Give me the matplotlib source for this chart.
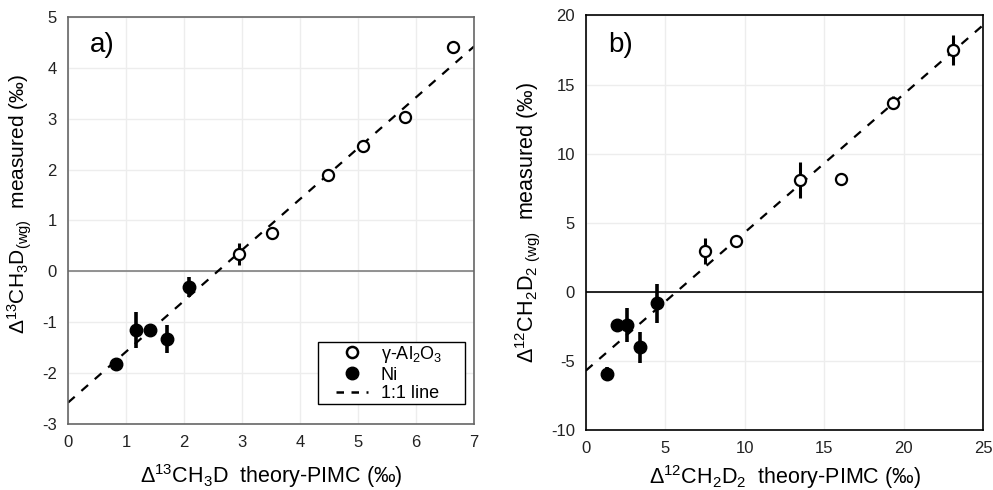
import matplotlib
matplotlib.use("Agg")
import matplotlib.pyplot as plt
from matplotlib.lines import Line2D
from matplotlib.patches import Rectangle

plt.rcParams["font.family"] = ["Liberation Sans", "DejaVu Sans"]
plt.rcParams["mathtext.fontset"] = "custom"
plt.rcParams["mathtext.rm"] = "Liberation Sans"
plt.rcParams["mathtext.it"] = "Liberation Sans:italic"
plt.rcParams["mathtext.default"] = "rm"
plt.rcParams["axes.unicode_minus"] = False

# panel a: Δ13CH3D
a_al_x = [6.64, 5.80, 5.09, 4.48, 3.51, 2.95]
a_al_y = [4.41, 3.04, 2.47, 1.89, 0.76, 0.34]
a_al_err = [0.0, 0.0, 0.10, 0.10, 0.0, 0.21]
a_ni_x = [2.09, 1.18, 1.42, 1.70, 0.82]
a_ni_y = [-0.31, -1.15, -1.15, -1.33, -1.83]
a_ni_err = [0.20, 0.36, 0.0, 0.28, 0.0]
a_offset = -2.58

# panel b: Δ12CH2D2
b_al_x = [23.11, 19.34, 16.04, 13.46, 9.42, 7.49]
b_al_y = [17.51, 13.70, 8.17, 8.10, 3.71, 2.98]
b_al_err = [1.1, 0.5, 0.0, 1.3, 0.0, 0.95]
b_ni_x = [4.49, 1.99, 2.62, 3.40, 1.30]
b_ni_y = [-0.83, -2.40, -2.40, -4.02, -5.95]
b_ni_err = [1.4, 0.0, 1.2, 1.15, 0.5]
b_offset = -5.70

fig = plt.figure(figsize=(9.93, 4.9), dpi=100)
ax_a = fig.add_axes([0.0685, 0.1347, 0.409, 0.831])
ax_b = fig.add_axes([0.590, 0.1224, 0.400, 0.846])


def panel(ax, al_x, al_y, al_err, ni_x, ni_y, ni_err, offset, xlim, ylim, step_x, step_y, zero_color):
    ax.set_xlim(*xlim)
    ax.set_ylim(*ylim)
    ax.set_xticks(range(xlim[0], xlim[1] + 1, step_x))
    ax.set_yticks(range(ylim[0], ylim[1] + 1, step_y))
    ax.grid(True, color="#ededed", linewidth=1.0)
    ax.set_axisbelow(True)
    ax.tick_params(length=0, labelsize=12, pad=8, colors="#222222")
    ax.axhline(0, color=zero_color, linewidth=1.2, zorder=1)
    ax.plot(list(xlim), [xlim[0] + offset, xlim[1] + offset], color="black",
            linestyle=(0, (4, 4)), linewidth=1.6, zorder=2)
    ax.errorbar(al_x, al_y, yerr=al_err, fmt="o", mfc="white", mec="black", mew=1.6,
                ms=8, ecolor="black", elinewidth=2.2, capsize=0, zorder=3)
    ax.errorbar(ni_x, ni_y, yerr=ni_err, fmt="o", mfc="black", mec="black",
                ms=9, ecolor="black", elinewidth=2.6, capsize=0, zorder=3)


panel(ax_a, a_al_x, a_al_y, a_al_err, a_ni_x, a_ni_y, a_ni_err, a_offset,
      (0, 7), (-3, 5), 1, 1, "#808080")
panel(ax_b, b_al_x, b_al_y, b_al_err, b_ni_x, b_ni_y, b_ni_err, b_offset,
      (0, 25), (-10, 20), 5, 5, "black")

for sp in ax_a.spines.values():
    sp.set_color("#666666")
    sp.set_linewidth(1.2)
for sp in ax_b.spines.values():
    sp.set_color("black")
    sp.set_linewidth(1.2)

ax_a.set_xlabel(r"$\Delta^{13}$CH$_3$D  theory-PIMC (‰)", fontsize=15.5)
ax_a.set_ylabel(r"$\Delta^{13}$CH$_3$D$_{(wg)}$  measured (‰)", fontsize=15)
ax_b.set_xlabel(r"$\Delta^{12}$CH$_2$D$_2$  theory-PIMC (‰)", fontsize=15.5)
ax_b.set_ylabel(r"$\Delta^{12}$CH$_2$D$_2$$_{\ (wg)}$  measured (‰)", fontsize=15.5)
ax_a.xaxis.set_label_coords(0.5, -0.093)
ax_b.xaxis.set_label_coords(0.5, -0.08)
ax_a.yaxis.set_label_coords(-0.0845, 0.54)
ax_b.yaxis.set_label_coords(-0.111, 0.5)

ax_a.text(0.055, 0.93, "a)", transform=ax_a.transAxes, fontsize=20, va="center")
ax_b.text(0.055, 0.93, "b)", transform=ax_b.transAxes, fontsize=20, va="center")

# legend box is wider than its contents in the original
ax_a.add_patch(Rectangle((0.615, 0.049), 0.362, 0.152, transform=ax_a.transAxes,
                         facecolor="white", edgecolor="black", linewidth=1.0, zorder=4))
handles = [
    Line2D([], [], marker="o", linestyle="none", mfc="white", mec="black", mew=1.8, ms=8),
    Line2D([], [], marker="o", linestyle="none", mfc="black", mec="black", ms=9),
    Line2D([], [], color="black", linestyle=(0, (3, 3)), linewidth=1.8),
]
leg = ax_a.legend(handles, [r"$\gamma$-Al$_2$O$_3$", "Ni", "1:1 line"],
                  loc="center", bbox_to_anchor=(0.79, 0.125), fontsize=13,
                  frameon=False, handlelength=1.8, labelspacing=0.1, borderpad=0,
                  handletextpad=0.7, borderaxespad=0)
leg.set_zorder(5)

fig.savefig("out.png", dpi=100)
